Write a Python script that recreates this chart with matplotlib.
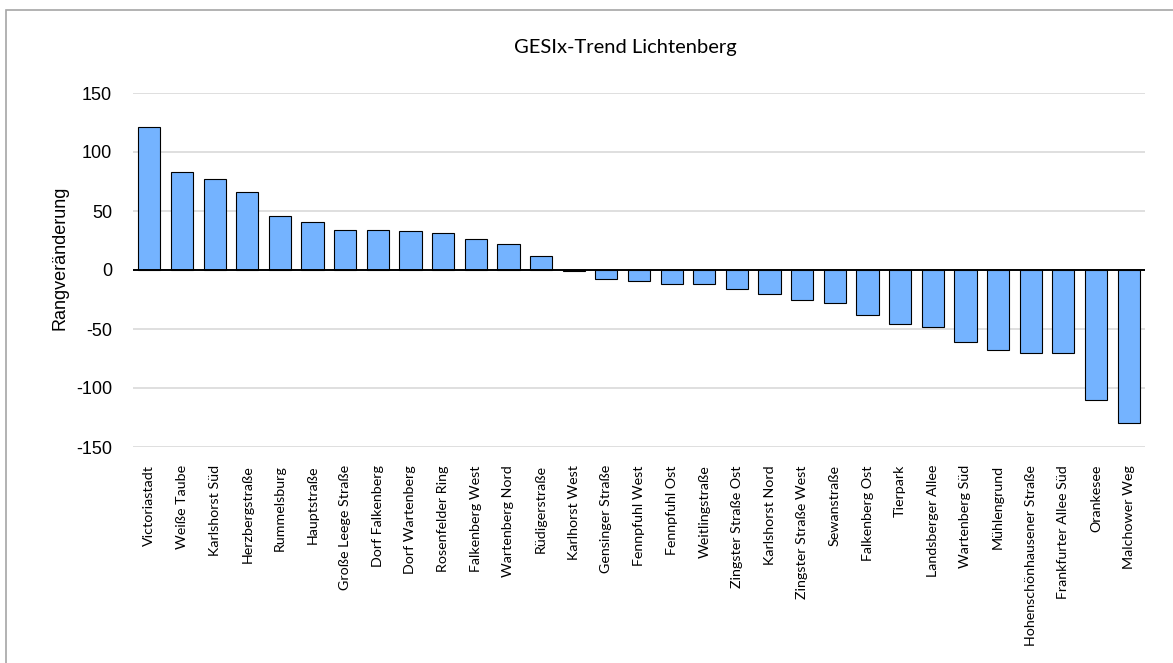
"""GESIx-Trend Lichtenberg: Rangveränderung je Planungsraum."""

import matplotlib

matplotlib.use("Agg")
import matplotlib.pyplot as plt
from matplotlib.patches import Rectangle

TITLE = "GESIx-Trend Lichtenberg"
Y_LABEL = "Rangveränderung"

areas = [
    "Victoriastadt", "Weiße Taube", "Karlshorst Süd", "Herzbergstraße",
    "Rummelsburg", "Hauptstraße", "Große Leege Straße", "Dorf Falkenberg",
    "Dorf Wartenberg", "Rosenfelder Ring", "Falkenberg West", "Wartenberg Nord",
    "Rüdigerstraße", "Karlhorst West", "Gensinger Straße", "Fennpfuhl West",
    "Fennpfuhl Ost", "Weitlingstraße", "Zingster Straße Ost", "Karlshorst Nord",
    "Zingster Straße West", "Sewanstraße", "Falkenberg Ost", "Tierpark",
    "Landsberger Allee", "Wartenberg Süd", "Mühlengrund",
    "Hohenschönhausener Straße", "Frankfurter Allee Süd", "Orankesee",
    "Malchower Weg",
]
rank_change = [
    121, 83, 77, 66, 46, 41, 34, 34, 33, 31, 26, 22, 12, -1,
    -8, -9, -12, -12, -16, -20, -25, -28, -38, -46, -48, -61,
    -68, -70, -70, -110, -130,
]
y_ticks = [-150, -100, -50, 0, 50, 100, 150]


def main() -> int:
    fig = plt.figure(figsize=(11.73, 6.63), dpi=100)
    fig.patches.append(
        Rectangle((6 / 1173, -0.1), 1.2, 1.1 - 10 / 663, transform=fig.transFigure,
                  fill=False, edgecolor="#a6a6a6", linewidth=1.2)
    )
    ax = fig.add_axes([133 / 1173, 1 - 447 / 663, (1145 - 133) / 1173, (447 - 93) / 663])

    x = range(len(areas))
    ax.bar(x, rank_change, width=0.68, color="#74b3ff", edgecolor="black",
           linewidth=0.8, zorder=3)
    ax.axhline(0, color="black", linewidth=1.4, zorder=4)

    ax.set_ylim(-150, 150)
    ax.set_xlim(-0.5, len(areas) - 0.5)
    ax.set_yticks(y_ticks)
    ax.set_yticklabels([str(v) for v in y_ticks], fontsize=13, family="Liberation Sans")
    ax.yaxis.grid(True, color="#d9d9d9", linewidth=1.2, zorder=0)
    ax.set_xticks(list(x))
    ax.set_xticklabels(areas, rotation=90, fontsize=10.3, family="Lato")
    ax.tick_params(axis="both", length=0)
    ax.tick_params(axis="y", pad=15)
    ax.tick_params(axis="x", pad=13)
    for spine in ax.spines.values():
        spine.set_visible(False)

    fig.text(60 / 1173, 1 - 258 / 663, Y_LABEL, rotation=90, ha="center", va="center",
             fontsize=13, family="Liberation Sans")
    fig.text(625 / 1173, 1 - 48 / 663, TITLE, ha="center", va="center",
             fontsize=14.5, family="Lato")

    fig.savefig("out.png", dpi=100)
    plt.close(fig)
    return 0


if __name__ == "__main__":
    raise SystemExit(main())
